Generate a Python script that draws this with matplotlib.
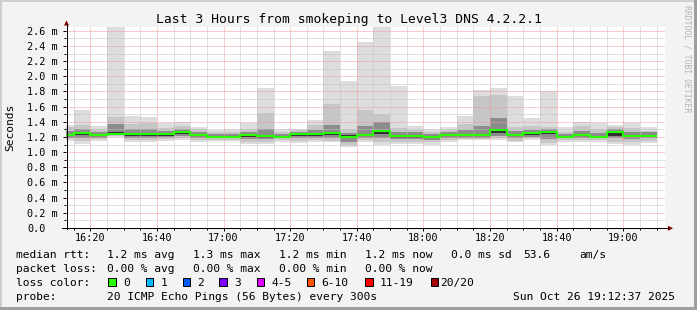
import matplotlib
matplotlib.use("Agg")
import matplotlib.pyplot as plt
import numpy as np
from matplotlib.patches import Rectangle, Polygon
from matplotlib.lines import Line2D

# ---------------- data (values in milliseconds) ----------------
first_bin = "16:10"          # start of first 5-minute bin
bin_minutes = 5
view_start = "16:12:37"
view_end = "19:12:37"

rtt_median = [1.23, 1.25, 1.23, 1.245, 1.24, 1.24, 1.24, 1.27, 1.23, 1.20, 1.20, 1.22,
              1.21, 1.20, 1.235, 1.235, 1.255, 1.20, 1.23, 1.28, 1.21, 1.21, 1.20, 1.23,
              1.23, 1.23, 1.29, 1.23, 1.25, 1.27, 1.20, 1.23, 1.20, 1.26, 1.215, 1.215]
rtt_min = [1.15, 1.11, 1.15, 1.20, 1.13, 1.14, 1.15, 1.16, 1.13, 1.15, 1.15, 1.11,
           1.11, 1.14, 1.12, 1.13, 1.13, 1.07, 1.14, 1.10, 1.11, 1.11, 1.10, 1.14,
           1.16, 1.16, 1.16, 1.13, 1.165, 1.09, 1.14, 1.13, 1.14, 1.11, 1.10, 1.12]
rtt_max = [1.36, 1.56, 1.35, 2.65, 1.48, 1.46, 1.39, 1.40, 1.33, 1.29, 1.31, 1.39,
           1.85, 1.31, 1.31, 1.43, 2.34, 1.94, 2.45, 2.65, 1.87, 1.34, 1.31, 1.33,
           1.48, 1.82, 1.85, 1.74, 1.45, 1.81, 1.33, 1.40, 1.39, 1.36, 1.38, 1.33]
rtt_lo2 = [1.17, 1.15, 1.17, 1.21, 1.16, 1.16, 1.17, 1.18, 1.16, 1.16, 1.16, 1.14,
           1.14, 1.16, 1.15, 1.16, 1.15, 1.10, 1.16, 1.14, 1.14, 1.14, 1.13, 1.16,
           1.17, 1.17, 1.18, 1.15, 1.18, 1.12, 1.16, 1.16, 1.16, 1.14, 1.14, 1.15]
rtt_hi2 = [1.33, 1.36, 1.30, 1.47, 1.37, 1.38, 1.32, 1.35, 1.30, 1.26, 1.27, 1.30,
           1.52, 1.27, 1.29, 1.36, 1.63, 1.30, 1.55, 1.50, 1.32, 1.29, 1.27, 1.29,
           1.37, 1.74, 1.75, 1.33, 1.34, 1.33, 1.27, 1.34, 1.31, 1.33, 1.32, 1.28]
rtt_qlo = [1.19, 1.19, 1.19, 1.22, 1.19, 1.19, 1.20, 1.21, 1.19, 1.18, 1.18, 1.17,
           1.17, 1.18, 1.19, 1.19, 1.19, 1.14, 1.18, 1.19, 1.17, 1.17, 1.16, 1.19,
           1.19, 1.19, 1.21, 1.18, 1.20, 1.17, 1.18, 1.19, 1.18, 1.18, 1.17, 1.18]
rtt_qhi = [1.28, 1.31, 1.27, 1.37, 1.31, 1.31, 1.28, 1.31, 1.27, 1.24, 1.24, 1.26,
           1.30, 1.24, 1.27, 1.29, 1.36, 1.25, 1.34, 1.40, 1.27, 1.26, 1.24, 1.27,
           1.29, 1.34, 1.45, 1.28, 1.29, 1.30, 1.24, 1.28, 1.25, 1.30, 1.27, 1.26]
rtt_clo = [1.21, 1.22, 1.21, 1.22, 1.21, 1.21, 1.21, 1.24, 1.21, 1.19, 1.19, 1.20,
           1.19, 1.19, 1.21, 1.21, 1.22, 1.18, 1.21, 1.24, 1.19, 1.19, 1.18, 1.21,
           1.21, 1.21, 1.25, 1.21, 1.23, 1.24, 1.19, 1.21, 1.19, 1.21, 1.20, 1.20]
rtt_chi = [1.24, 1.26, 1.24, 1.26, 1.25, 1.25, 1.25, 1.28, 1.24, 1.21, 1.21, 1.23,
           1.22, 1.21, 1.245, 1.245, 1.27, 1.22, 1.24, 1.29, 1.22, 1.22, 1.21, 1.24,
           1.24, 1.24, 1.31, 1.24, 1.26, 1.28, 1.21, 1.24, 1.21, 1.27, 1.23, 1.23]

ytick_values = [0.0, 0.2, 0.4, 0.6, 0.8, 1.0, 1.2, 1.4, 1.6, 1.8, 2.0, 2.2, 2.4, 2.6]
ytick_labels = ["0.0", "0.2 m", "0.4 m", "0.6 m", "0.8 m", "1.0 m", "1.2 m", "1.4 m",
                "1.6 m", "1.8 m", "2.0 m", "2.2 m", "2.4 m", "2.6 m"]
xtick_labels = ["16:20", "16:40", "17:00", "17:20", "17:40", "18:00", "18:20", "18:40", "19:00"]

loss_labels = ["0", "1", "2", "3", "4-5", "6-10", "11-19", "20/20"]
loss_colors = ["#26ff00", "#00b8ff", "#0059ff", "#7e00ff", "#dd00ff", "#ff5500", "#ff0000", "#a10000"]

title = "Last 3 Hours from smokeping to Level3 DNS 4.2.2.1"
stat_row1 = [("median rtt:", 16), ("1.2 ms avg", 107.3), ("1.3 ms max", 193.3), ("1.2 ms min", 279.3),
             ("1.2 ms now", 365), ("0.0 ms sd", 451), ("53.6", 523), ("am/s", 579.3)]
stat_row2 = [("packet loss:", 16), ("0.00 % avg", 107.3), ("0.00 % max", 193.3),
             ("0.00 % min", 279.3), ("0.00 % now", 365)]
probe_text = "20 ICMP Echo Pings (56 Bytes) every 300s"
date_text = "Sun Oct 26 19:12:37 2025"


def to_min(s):
    parts = [float(p) for p in s.split(":")]
    while len(parts) < 3:
        parts.append(0.0)
    return parts[0] * 60 + parts[1] + parts[2] / 60


# ---------------- figure ----------------
W, H = 697, 310
FONT = "DejaVu Sans Mono"
LFS = 8.1
plt.rcParams["font.family"] = [FONT]

fig = plt.figure(figsize=(W / 100, H / 100), dpi=100, facecolor="#f3f3f3")


def fx(x):
    return x / W


def fy(y):
    return 1 - y / H


left_px, right_px, top_px, bottom_px = 65.7, 665.3, 27.0, 228.0
ax = fig.add_axes([fx(left_px), fy(bottom_px), (right_px - left_px) / W, (bottom_px - top_px) / H])
ax.set_facecolor("white")

t0 = to_min(first_bin)
edges = t0 + bin_minutes * np.arange(len(rtt_median) + 1)

ax.set_xlim(to_min(view_start), to_min(view_end))
ax.set_ylim(0, 2.65)

# smoke bands
bands = [(rtt_min, rtt_max, "#dddddd"), (rtt_lo2, rtt_hi2, "#c6c6c6"),
         (rtt_qlo, rtt_qhi, "#8c8c8c"), (rtt_clo, rtt_chi, "#303030")]
for lo, hi, col in bands:
    ax.stairs(hi, edges, baseline=lo, fill=True, facecolor=col, edgecolor="none",
              linewidth=0, zorder=1)

# grid
ax.set_yticks(ytick_values)
ax.set_yticklabels(ytick_labels)
ax.set_yticks(np.round(np.arange(0.1, 2.65, 0.2), 2), minor=True)
xt = [to_min(s) for s in xtick_labels]
ax.set_xticks(xt)
ax.set_xticklabels(xtick_labels)
ax.set_xticks([e for e in np.arange(to_min("16:15"), to_min("19:12"), 5) if e not in xt], minor=True)

ax.grid(which="minor", color="#c2c2c2", linestyle=(0, (1, 1)), linewidth=0.72, zorder=2)
ax.grid(which="major", color="#f29a9a", linestyle=(0, (1, 1)), linewidth=0.72, zorder=2)
ax.set_axisbelow(False)
for gl in ax.get_xgridlines() + ax.get_ygridlines():
    gl.set_zorder(2)

# median line
ax.stairs(rtt_median, edges, baseline=None, color=loss_colors[0], linewidth=1.5, zorder=5)

for s in ax.spines.values():
    s.set_visible(False)

ax.tick_params(axis="both", which="both", direction="out", color="black", width=0.72)
ax.tick_params(axis="both", which="major", length=2.2)
ax.tick_params(axis="both", which="minor", length=1.5)
ax.tick_params(axis="y", which="major", labelsize=7.3, pad=25.5)
ax.tick_params(axis="x", which="major", labelsize=7.3, pad=1.5)
for lbl in ax.get_yticklabels():
    lbl.set_horizontalalignment("left")
    lbl.set_fontfamily(FONT)

# axis lines + arrows (figure pixel coordinates)
fig.add_artist(Line2D([fx(66.5), fx(66.5)], [fy(228.5), fy(25)], color="black", lw=0.72))
fig.add_artist(Line2D([fx(61.7), fx(668)], [fy(228.3), fy(228.3)], color="black", lw=0.72))
fig.add_artist(Polygon([(fx(64), fy(25.5)), (fx(69), fy(25.5)), (fx(66.5), fy(20.5))],
                       closed=True, facecolor="#7f0000", edgecolor="none"))
fig.add_artist(Polygon([(fx(668), fy(225.8)), (fx(668), fy(230.8)), (fx(673), fy(228.3))],
                       closed=True, facecolor="#7f0000", edgecolor="none"))

# title / labels
fig.text(0.5, fy(19), title, ha="center", va="center", fontsize=9.4, family=FONT)
fig.text(fx(10), fy(127.5), "Seconds", rotation=90, ha="center", va="center", fontsize=LFS, family=FONT)
fig.text(fx(687), fy(5), "RRDTOOL / TOBI OETIKER", rotation=270, ha="center", va="top",
         fontsize=5.9, family=FONT, color="#b4b4b4")

# legend rows
base = [258.3, 272.3, 286.3, 300.3]
for txt, x in stat_row1:
    fig.text(fx(x), fy(base[0]), txt, ha="left", va="baseline", fontsize=LFS, family=FONT)
for txt, x in stat_row2:
    fig.text(fx(x), fy(base[1]), txt, ha="left", va="baseline", fontsize=LFS, family=FONT)
fig.text(fx(16), fy(base[2]), "loss color:", ha="left", va="baseline", fontsize=LFS, family=FONT)
box_x = [108.3, 145.7, 182.7, 219.3, 256.7, 306.7, 365.3, 430.7]
lab_x = [123.3, 161, 197.3, 234.3, 271, 321.7, 380, 440]
for lab, col, bx, lx in zip(loss_labels, loss_colors, box_x, lab_x):
    fig.add_artist(Rectangle((fx(bx), fy(285.7)), 7.4 / W, 8 / H, transform=fig.transFigure,
                             facecolor=col, edgecolor="black", linewidth=0.72))
    fig.text(fx(lx), fy(base[2]), lab, ha="left", va="baseline", fontsize=LFS, family=FONT)
fig.text(fx(16), fy(base[3]), "probe:", ha="left", va="baseline", fontsize=LFS, family=FONT)
fig.text(fx(107.3), fy(base[3]), probe_text, ha="left", va="baseline", fontsize=LFS, family=FONT)
fig.text(fx(513.3), fy(base[3]), date_text, ha="left", va="baseline", fontsize=LFS, family=FONT)

# 3D border
fig.add_artist(Rectangle((0, fy(2)), 1, 2 / H, transform=fig.transFigure, facecolor="#cfcfcf", edgecolor="none"))
fig.add_artist(Rectangle((0, 0), 2 / W, 1, transform=fig.transFigure, facecolor="#cfcfcf", edgecolor="none"))
fig.add_artist(Rectangle((0, 0), 1, 3 / H, transform=fig.transFigure, facecolor="#9e9e9e", edgecolor="none"))
fig.add_artist(Rectangle((fx(694), 0), 3 / W, 1, transform=fig.transFigure, facecolor="#9e9e9e", edgecolor="none"))

fig.savefig("out.png", dpi=100, facecolor=fig.get_facecolor())
